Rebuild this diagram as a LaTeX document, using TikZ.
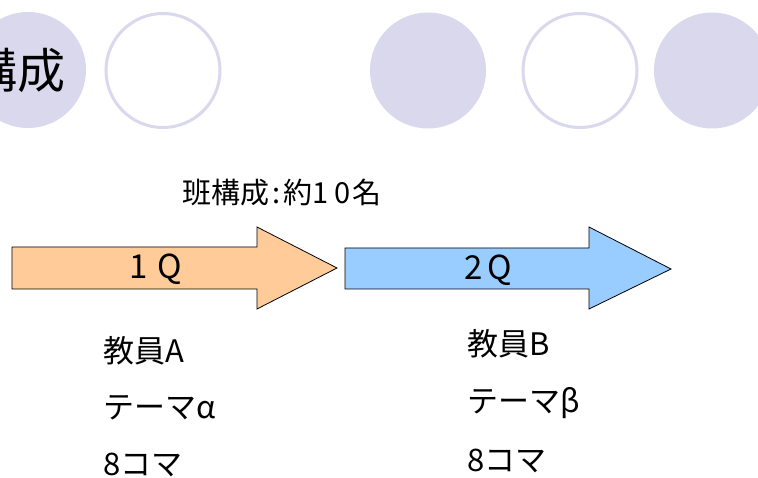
\documentclass[tikz,border=0pt]{standalone}
\usepackage{fontspec}
\setmainfont{Noto Sans CJK JP}
\definecolor{lav}{RGB}{218,216,236}
\definecolor{peach}{RGB}{255,204,153}
\definecolor{skyb}{RGB}{153,204,255}
\tikzset{
  dot/.style={circle, fill=lav, draw=none, minimum size=116pt, inner sep=0pt},
  ring/.style={circle, fill=white, draw=lav, line width=3pt, minimum size=114pt, inner sep=0pt},
  bigarrow/.style={draw=black, line width=0.8pt, line join=miter},
  qlabel/.style={font=\fontsize{33}{33}\selectfont, inner sep=0pt},
  info/.style={font=\fontsize{31}{31}\selectfont, anchor=west, inner sep=0pt},
}
\begin{document}
\begin{tikzpicture}[x=1pt, y=-1pt]
\useasboundingbox (0,0) rectangle (758,478);
\clip (0,0) rectangle (758,478);
\fill[white] (0,0) rectangle (758,478);
% circles
\node[dot] (c1) at (28,70) {};
\node[ring] (c2) at (163,70.5) {};
\node[dot] (c3) at (428,70.5) {};
\node[ring] (c4) at (580,70.5) {};
\node[dot] (c5) at (712,70.5) {};
\node[font=\fontsize{48}{48}\selectfont, inner sep=0pt] (title) at (18,70) {構成};
% group label
\node[font=\fontsize{29}{29}\selectfont, inner sep=0pt] (grp) at (282,193) {班構成\kern3pt:\kern3pt約1\kern6pt0\kern2pt名};
% arrows
\draw[bigarrow, fill=peach] (12,247) -- (257,247) -- (257,227) -- (337,268) -- (257,309) -- (257,289) -- (12,289) -- cycle;
\draw[bigarrow, fill=skyb] (345,248) -- (589,248) -- (589,227) -- (671,269) -- (589,309) -- (589,289) -- (345,289) -- cycle;
\node[qlabel] (q1) at (156,269) {1\kern10pt Q};
\node[qlabel] (q2) at (488,270) {2\kern5pt Q};
% left column
\node[info] (a1) at (103,351) {教員A};
\node[info] (a2) at (103,408) {テーマα};
\node[info] (a3) at (103,465) {8コマ};
% right column
\node[info] (b1) at (467,344) {教員B};
\node[info] (b2) at (467,403) {テーマβ};
\node[info] (b3) at (467,461) {8コマ};
\end{tikzpicture}
\end{document}
